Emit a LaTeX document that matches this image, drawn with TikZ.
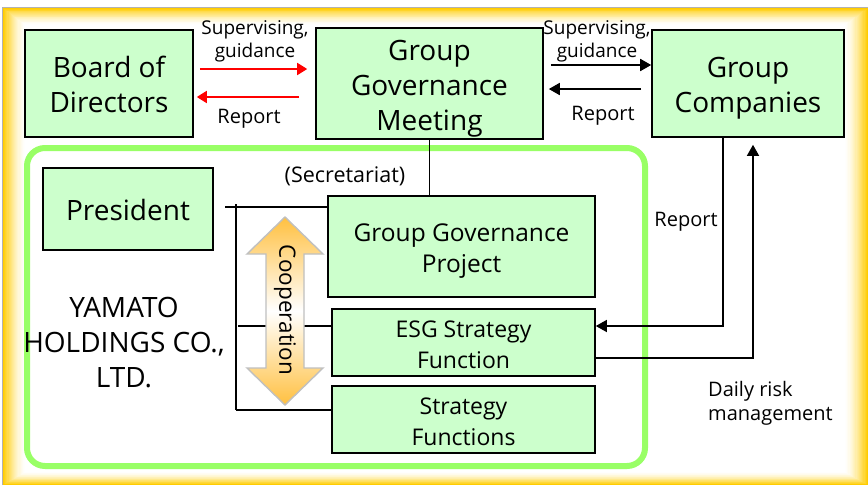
\documentclass[tikz,border=0pt]{standalone}
\usepackage{fontspec}
\setmainfont{Open Sans}
\usetikzlibrary{arrows.meta,calc}
\definecolor{boxgreen}{RGB}{204,255,204}
\definecolor{framegreen}{RGB}{153,255,102}
\definecolor{framegold}{RGB}{255,204,0}
\definecolor{coopfill}{RGB}{255,192,64}
\definecolor{coopedge}{RGB}{192,192,192}
\definecolor{redline}{RGB}{255,0,0}
% struts that give every box the same line box, whatever its letters
\newcommand{\hiBig}{\rule{0pt}{32pt}}
\newcommand{\loBig}{\rule[-9pt]{0pt}{9pt}}
\newcommand{\hiMid}{\rule{0pt}{28pt}}
\newcommand{\loMid}{\rule[-8pt]{0pt}{8pt}}
\begin{document}
\begin{tikzpicture}[x=1pt,y=-1pt,
  box/.style={draw=black, line width=1.6pt, fill=boxgreen, align=center, inner sep=0pt},
  bigtext/.style={font=\fontsize{28}{35}\selectfont},
  midtext/.style={font=\fontsize{24.5}{31}\selectfont},
  midtextb/.style={font=\fontsize{23}{31}\selectfont},
  smalltext/.style={font=\fontsize{19}{23}\selectfont, align=center, inner sep=0pt},
  labeltext/.style={font=\fontsize{20}{24}\selectfont, align=center, inner sep=0pt},
  link/.style={line width=1.6pt},
  redarrow/.style={draw=redline, line width=1.8pt, -{Triangle[length=10pt,width=12pt]}},
  blackarrow/.style={draw=black, line width=1.8pt, -{Triangle[length=11pt,width=12pt]}},
  thinarrow/.style={draw=black, line width=1.4pt, -{Triangle[length=11pt,width=12pt]}}
]
\useasboundingbox (0,0) rectangle (868,485);
\fill[white] (0,0) rectangle (868,485);

% golden frame, fading from the outer edge towards the white page
\foreach \i in {0,...,20}{
  \pgfmathsetmacro{\t}{\i/20}
  \pgfmathsetmacro{\mix}{100*(1-\t)^1.6}
  \fill[framegold!\mix!white] (3+22*\t, 8+17*\t) rectangle (868-23*\t, 485-13*\t);
}
\draw[gray!60, line width=1pt] (2.5,485) -- (2.5,7.5) -- (868,7.5);

% company frame
\draw[framegreen, line width=6pt, rounded corners=18pt] (27,148) rectangle (645,466);

% top row
\node[box, bigtext, minimum width=168, minimum height=107] (BoD) at (109,83.5) {\hiBig Board of\\Directors\loBig};
\node[box, bigtext, minimum width=227, minimum height=107] (GGM) at (429.5,83.5) {\hiBig Group\\Governance\\Meeting\loBig};
\node[box, bigtext, minimum width=192, minimum height=107] (GC) at (748,83.5) {\hiBig Group\\Companies\loBig};

% inside the company
\node[box, bigtext, minimum width=170, minimum height=82] (Pres) at (128,209) {\hiBig President\loBig};
\node[box, midtext, minimum width=267, minimum height=101] (GGP) at (461.5,246.5) {\hiMid Group Governance\\Project\loMid};
\node[box, midtextb, minimum width=263, minimum height=61] (ESG) at (463.5,342.5) {\hiMid ESG Strategy\\Function\loMid};
\node[box, midtextb, minimum width=263, minimum height=67] (SF) at (463.5,419.5) {\hiMid Strategy\\Functions\loMid};

\node[bigtext, align=center, inner sep=0pt] (YHD) at (124,341) {\hiBig YAMATO\\HOLDINGS CO.,\\LTD.\loBig};

% labels
\node[smalltext] (supL) at (255,41) {Supervising,\\guidance};
\node[labeltext] (repL) at (249,119) {Report};
\node[smalltext] (supR) at (597,41) {Supervising,\\guidance};
\node[labeltext] (repR) at (603,116) {Report};
\node[labeltext, font=\fontsize{21.5}{24}\selectfont] (secr) at (345,176) {(Secretariat)};
\node[labeltext] (repV) at (686,222) {Report};
\node[labeltext, align=left, anchor=west] (daily) at (708,403) {Daily risk\\management};

% board <-> meeting
\draw[redarrow] ([xshift=6pt,yshift=14.5pt]BoD.east) -- ([xshift=-8pt,yshift=14.5pt]GGM.west);
\draw[redarrow] ([xshift=-16pt,yshift=-13.5pt]GGM.west) -- ([xshift=3pt,yshift=-13.5pt]BoD.east);

% meeting <-> group companies
\draw[blackarrow] ([xshift=7pt,yshift=18.5pt]GGM.east) -- ([yshift=18.5pt]GC.west);
\draw[blackarrow] ([xshift=-10pt,yshift=-5.5pt]GC.west) -- ([xshift=5pt,yshift=-5.5pt]GGM.east);

% meeting to its secretariat project
\draw[link] (GGM.south) -- (GGM.south |- GGP.north);

% bracket joining the president to the functions
\coordinate (brTop) at (236,204);
\coordinate (brBot) at (236,410);
\coordinate (brTopL) at (225,207);
\coordinate (brMid) at (238,326);
\draw[link] (brTop) -- (brBot);
\draw[link] (brTopL) -- (brTopL -| GGP.west);
\draw[link] (brMid) -- (brMid -| ESG.west);
\draw[link] (brBot) -- (brBot -| SF.west);

% cooperation double arrow
\path[draw=coopedge, line width=1.4pt, top color=coopfill, bottom color=coopfill, middle color=white]
  (285,217) -- (323,254) -- (304,254) -- (304,368) -- (323,368) -- (285,405)
  -- (247,368) -- (266,368) -- (266,254) -- (247,254) -- cycle;
\node[rotate=-90, font=\fontsize{22.5}{22.5}\selectfont, inner sep=0pt] (coop) at (285,310) {Cooperation};

% reporting and daily risk management lines
\coordinate (repCorner) at (723,326);
\coordinate (riskCorner) at (753,358);
\draw[thinarrow] (GC.south -| repCorner) -- (repCorner) -- (repCorner -| ESG.east);
\draw[thinarrow] (riskCorner -| ESG.east) -- (riskCorner) -- ([yshift=-7pt]GC.south -| riskCorner);
\end{tikzpicture}
\end{document}
